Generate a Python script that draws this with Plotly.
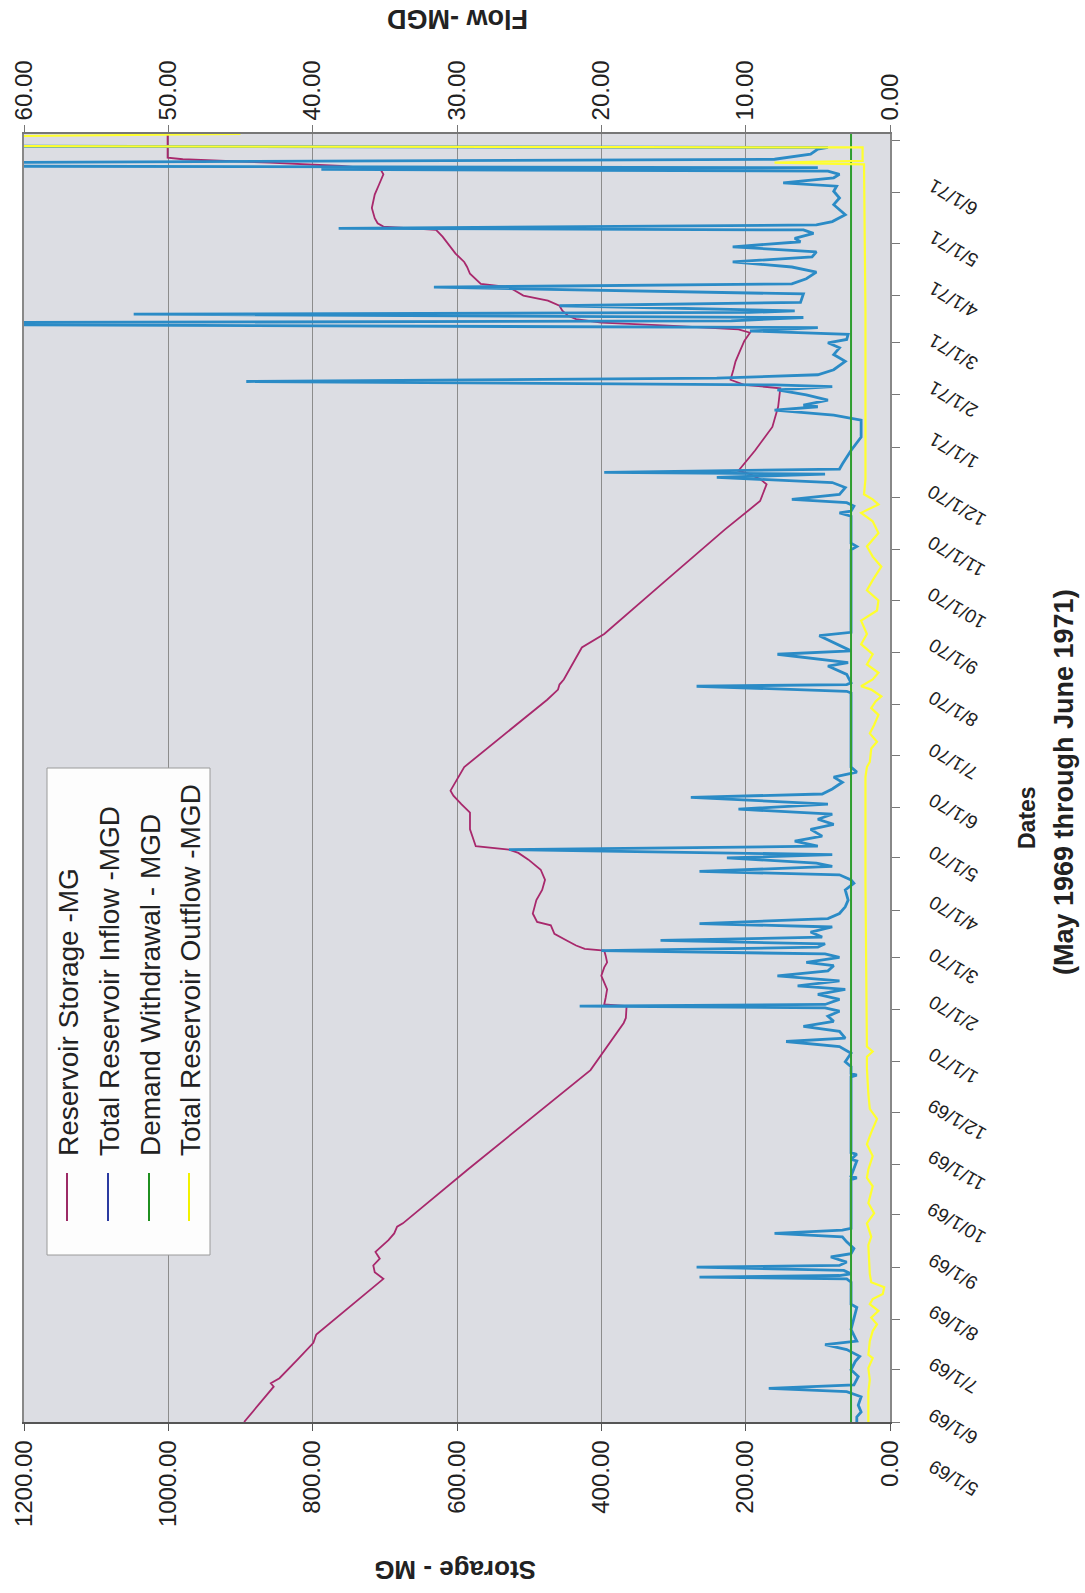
import plotly.graph_objects as go
import pandas as pd

START = pd.Timestamp("1969-05-01")

# ---------------- data (day index = days since 5/1/1969) ----------------
storage_day = [0, 10, 21, 23, 26, 37, 47, 52, 70, 85, 89, 93, 97, 101, 108, 112, 116, 118, 150,
               180, 209, 237, 240, 247, 248, 252, 257, 262, 265, 270, 273, 277, 280, 281, 283,
               286, 290, 295, 297, 302, 310, 316, 322, 328, 334, 338, 340, 342, 347, 352, 357,
               362, 367, 372, 375, 378, 383, 389, 429, 435, 438, 441, 460, 466, 468, 500, 530,
               547, 552, 557, 560, 563, 565, 571, 577, 584, 591, 603, 610, 614, 616, 619, 625,
               630, 636, 642, 647, 649, 651, 653, 655, 657, 660, 663, 666, 669, 672, 674, 676,
               679, 682, 686, 689, 694, 700, 704, 708, 710, 712, 715, 721, 725, 729, 735, 741,
               744, 746, 748, 750, 751, 765]
storage_mg = [895, 875, 854, 858, 846, 821, 799, 795, 744, 702, 714, 716, 707, 713, 695, 687, 683,
              675, 585, 498, 415, 369, 366, 365, 396, 394, 392, 397, 400, 396, 392, 394, 396, 423,
              435, 448, 465, 470, 489, 495, 490, 482, 478, 484, 501, 515, 528, 574, 578, 582, 582,
              582, 594, 605, 609, 605, 598, 590, 475, 460, 458, 452, 427, 404, 396, 310, 229,
              180, 175, 171, 180, 194, 210, 198, 187, 175, 163, 155, 153, 152, 202, 221, 217,
              214, 208, 202, 194, 210, 300, 400, 435, 446, 454, 458, 474, 508, 520, 528, 567,
              575, 582, 586, 590, 602, 613, 620, 629, 702, 710, 714, 718, 716, 714, 708, 702,
              706, 760, 860, 980, 1001, 1001]

inflow_day = [0, 3, 6, 10, 15, 18, 20, 22, 27, 31, 36, 39, 43, 46, 48, 55, 68, 70, 83, 85, 86, 87,
              88, 90, 92, 93, 95, 98, 100, 103, 107, 110, 112, 114, 115, 144, 145, 146, 155, 156,
              159, 160, 205, 206, 207, 211, 214, 219, 223, 226, 228, 232, 235, 238, 241, 244, 246,
              247, 248, 251, 254, 257, 259, 262, 265, 268, 271, 273, 276, 278, 280, 282, 284, 286,
              288, 291, 294, 296, 299, 302, 306, 310, 316, 320, 322, 325, 327, 330, 332, 335, 337,
              340, 342, 345, 348, 352, 355, 358, 361, 364, 367, 371, 373, 376, 380, 383, 386, 389,
              433, 434, 437, 438, 439, 444, 449, 451, 456, 458, 467, 469, 518, 520, 522, 538, 540,
              541, 544, 546, 548, 551, 555, 558, 561, 563, 564, 566, 569, 577, 585, 595, 598, 601,
              603, 604, 607, 610, 613, 615, 616, 618, 620, 622, 625, 630, 634, 638, 641, 643, 646,
              648, 650, 652, 653, 654, 656, 658, 659, 660, 663, 665, 670, 674, 676, 679, 683, 686,
              689, 692, 695, 698, 701, 703, 706, 708, 709, 711, 713, 717, 723, 727, 731, 734, 736,
              739, 741, 743, 744, 745, 746, 747, 748, 749, 750, 753, 756, 757, 758, 765]
inflow_mgd = [2.3, 2.3, 2.0, 2.2, 2.0, 3.0, 8.4, 2.5, 2.2, 2.7, 2.4, 2.1, 3.0, 4.5, 2.3, 2.7, 2.3,
              2.7, 2.7, 3.0, 13.2, 3.5, 2.7, 3.2, 13.4, 3.5, 3.0, 4.1, 2.7, 2.5, 3.0, 3.3, 8.0, 3.3,
              2.7, 2.7, 2.3, 2.7, 2.3, 2.7, 2.3, 2.7, 2.7, 2.3, 2.7, 2.7, 3.1, 2.7, 3.5, 7.2, 3.1,
              3.5, 6.0, 3.9, 4.3, 3.5, 4.5, 21.5, 4.5, 3.5, 5.0, 3.1, 6.4, 3.5, 7.8, 4.3, 3.9, 5.8,
              3.5, 4.5, 20.0, 5.0, 4.5, 15.9, 4.7, 5.5, 4.0, 13.2, 4.3, 3.5, 3.1, 2.9, 3.1, 2.5, 2.7,
              3.5, 13.2, 4.0, 5.1, 11.3, 4.0, 26.4, 5.0, 6.6, 4.7, 5.5, 3.9, 5.0, 4.0, 10.5, 4.3,
              13.8, 4.7, 4.0, 3.3, 3.9, 2.3, 2.7, 2.7, 3.0, 13.4, 3.0, 2.7, 3.0, 4.3, 2.9, 7.8, 2.7,
              4.9, 2.7, 2.7, 2.3, 2.7, 2.7, 3.5, 2.7, 2.5, 3.0, 6.8, 3.5, 3.1, 4.0, 12.0, 4.5, 19.8,
              3.5, 3.3, 2.7, 2.0, 2.0, 3.9, 8.0, 5.0, 6.0, 4.3, 5.8, 7.8, 4.0, 8.0, 44.6, 12.0, 5.0,
              3.9, 3.1, 3.9, 3.5, 4.3, 3.0, 2.9, 9.7, 5.0, 70, 62, 11.0, 6.0, 52.4, 9.7, 6.6, 22.9,
              6.2, 6.0, 31.6, 6.8, 5.8, 5.1, 6.8, 10.9, 5.4, 5.1, 10.9, 6.2, 6.6, 5.3, 6.0, 38.2,
              5.1, 4.0, 3.1, 3.9, 3.5, 3.9, 3.7, 7.4, 3.9, 3.5, 4.3, 39.4, 5.0, 70, 70, 65, 35, 8.0,
              5.5, 5.0, 4.3, 80, 80]

demand_day = [0, 765]
demand_mgd = [2.7, 2.7]

outflow_day = [0, 18, 25, 32, 38, 40, 48, 54, 58, 62, 66, 70, 73, 76, 80, 83, 88, 100, 105, 110,
               118, 124, 130, 140, 145, 150, 158, 165, 172, 180, 186, 195, 205, 210, 217, 220, 223,
               320, 383, 389, 392, 400, 404, 409, 414, 420, 424, 428, 431, 435, 437, 441, 445, 450,
               456, 462, 468, 476, 482, 488, 494, 500, 508, 514, 520, 528, 535, 540, 545, 548, 551,
               560, 660, 747, 748, 749, 757, 758, 763, 765]
outflow_mgd = [1.5, 1.5, 1.4, 1.5, 1.2, 1.5, 1.4, 1.2, 0.9, 1.3, 0.8, 1.4, 1.2, 0.5, 0.4, 1.3, 1.4,
               1.5, 1.5, 1.3, 1.6, 1.1, 1.5, 1.2, 1.6, 1.5, 1.2, 1.6, 1.3, 0.9, 1.4, 1.5, 1.6, 1.6,
               1.6, 1.2, 1.6, 1.7, 1.7, 1.6, 1.4, 1.3, 0.9, 1.4, 1.1, 0.8, 1.3, 1.0, 0.6, 1.3, 2.0,
               1.2, 0.8, 1.6, 1.2, 2.0, 1.6, 2.0, 0.9, 0.8, 1.6, 1.2, 0.6, 1.2, 1.6, 0.8, 1.2, 2.0,
               0.8, 1.2, 1.8, 1.7, 1.7, 1.8, 8.0, 1.9, 1.9, 80, 70, 45]

storage_ticks = [0, 200, 400, 600, 800, 1000, 1200]
flow_ticks = [0, 10, 20, 30, 40, 50, 60]
month_ticks = list(pd.date_range("1969-05-01", "1971-06-01", freq="MS"))
month_labels = [f"{d.month}/1/{d.strftime('%y')}" for d in month_ticks]
series_names = ["Reservoir Storage -MG", "Total Reservoir Inflow -MGD",
                "Demand Withdrawal - MGD", "Total Reservoir Outflow -MGD"]


def to_dates(days):
    return [START + pd.Timedelta(days=d) for d in days]


# ---------------- geometry / style ----------------
W, H = 1085, 1593
ML, MR, MT, MB = 24, 195, 134, 171
PW, PH = W - ML - MR, H - MT - MB


def pxx(x):
    return (x - ML) / PW


def pxy(y):
    return (H - MB - y) / PH


FONT = "Liberation Sans, Arial, sans-serif"
C_STOR, C_IN, C_DEM, C_OUT = "#a8286c", "#2b8bc6", "#2f9e2f", "#ffff2e"
LEG_COLORS = ["#9c2a66", "#2a3aa0", "#1f8f1f", "#f2f200"]

fig = go.Figure()
fig.add_trace(go.Scatter(x=storage_mg, y=to_dates(storage_day), mode="lines", xaxis="x", yaxis="y",
                         line=dict(color=C_STOR, width=1.8), name=series_names[0]))
fig.add_trace(go.Scatter(x=inflow_mgd, y=to_dates(inflow_day), mode="lines", xaxis="x2", yaxis="y",
                         line=dict(color=C_IN, width=2.8), name=series_names[1]))
fig.add_trace(go.Scatter(x=demand_mgd, y=to_dates(demand_day), mode="lines", xaxis="x2", yaxis="y",
                         line=dict(color=C_DEM, width=2), name=series_names[2]))
fig.add_trace(go.Scatter(x=outflow_mgd, y=to_dates(outflow_day), mode="lines", xaxis="x2", yaxis="y",
                         line=dict(color=C_OUT, width=2.2), name=series_names[3]))

fig.update_layout(
    width=W, height=H, autosize=False,
    margin=dict(l=ML, r=MR, t=MT, b=MB, pad=0),
    paper_bgcolor="white", plot_bgcolor="#dcdde3",
    showlegend=False,
    font=dict(family=FONT, color="#222222"),
    xaxis=dict(range=[1200, 0], tickvals=storage_ticks, ticktext=[f"{v:.2f}" for v in storage_ticks],
               tickangle=-90, tickfont=dict(size=24), showgrid=True, gridcolor="#8c8c8c", gridwidth=1,
               zeroline=False, showline=True, linecolor="#555555", linewidth=1.5, ticks="outside",
               ticklen=7, tickcolor="#555555", automargin=False, anchor="y", side="bottom"),
    xaxis2=dict(range=[60, 0], tickvals=flow_ticks, ticktext=[f"{v:.2f}" for v in flow_ticks],
                tickangle=-90, tickfont=dict(size=24), showgrid=False, zeroline=False, showline=True,
                linecolor="#777777", linewidth=1.5, ticks="outside", ticklen=7, tickcolor="#777777",
                overlaying="x", side="top", anchor="y", automargin=False),
    yaxis=dict(type="date", range=[START, START + pd.Timedelta(days=765)], side="right",
               tickvals=month_ticks, showticklabels=False, ticks="outside", ticklen=8,
               tickcolor="#777777", showgrid=False, zeroline=False, showline=True,
               linecolor="#888888", linewidth=1.5, mirror=True, automargin=False),
)

ann = []
# date labels (rotated)
for d, lab in zip(month_ticks, month_labels):
    ann.append(dict(x=pxx(922), xref="paper", y=d, yref="y", yshift=-31, text=lab, showarrow=False,
                    textangle=-150, xanchor="left", yanchor="top", font=dict(size=19, color="#222")))
# axis titles
ann.append(dict(x=pxx(455), y=pxy(1570), xref="paper", yref="paper", text="<b>Storage - MG</b>",
                showarrow=False, textangle=180, xanchor="center", yanchor="middle",
                font=dict(size=26, color="#222")))
ann.append(dict(x=pxx(458), y=pxy(19), xref="paper", yref="paper", text="<b>Flow -MGD</b>",
                showarrow=False, textangle=180, xanchor="center", yanchor="middle",
                font=dict(size=27, color="#222")))
ann.append(dict(x=pxx(1027), y=pxy(818), xref="paper", yref="paper", text="<b>Dates</b>",
                showarrow=False, textangle=-90, xanchor="center", yanchor="middle",
                font=dict(size=23, color="#222")))
ann.append(dict(x=pxx(1064), y=pxy(782), xref="paper", yref="paper",
                text="<b>(May 1969 through June 1971)</b>",
                showarrow=False, textangle=-90, xanchor="center", yanchor="middle",
                font=dict(size=27, color="#222")))

# legend (rotated)
shapes = [dict(type="rect", xref="paper", yref="paper", x0=pxx(47), x1=pxx(210), y0=pxy(1255),
               y1=pxy(768), fillcolor="#fdfdfd", line=dict(color="#9a9a9a", width=1), layer="above")]
leg_x = [67, 108, 149, 189]
for lx, name, col in zip(leg_x, series_names, LEG_COLORS):
    shapes.append(dict(type="line", xref="paper", yref="paper", x0=pxx(lx), x1=pxx(lx),
                       y0=pxy(1221), y1=pxy(1173), line=dict(color=col, width=2), layer="above"))
    ann.append(dict(x=pxx(lx + 1), y=pxy(1158), xref="paper", yref="paper", text=name,
                    showarrow=False, textangle=-90, xanchor="center", yanchor="bottom",
                    font=dict(size=28, color="#222")))

fig.update_layout(annotations=ann, shapes=shapes)
fig.write_html("out.html")
